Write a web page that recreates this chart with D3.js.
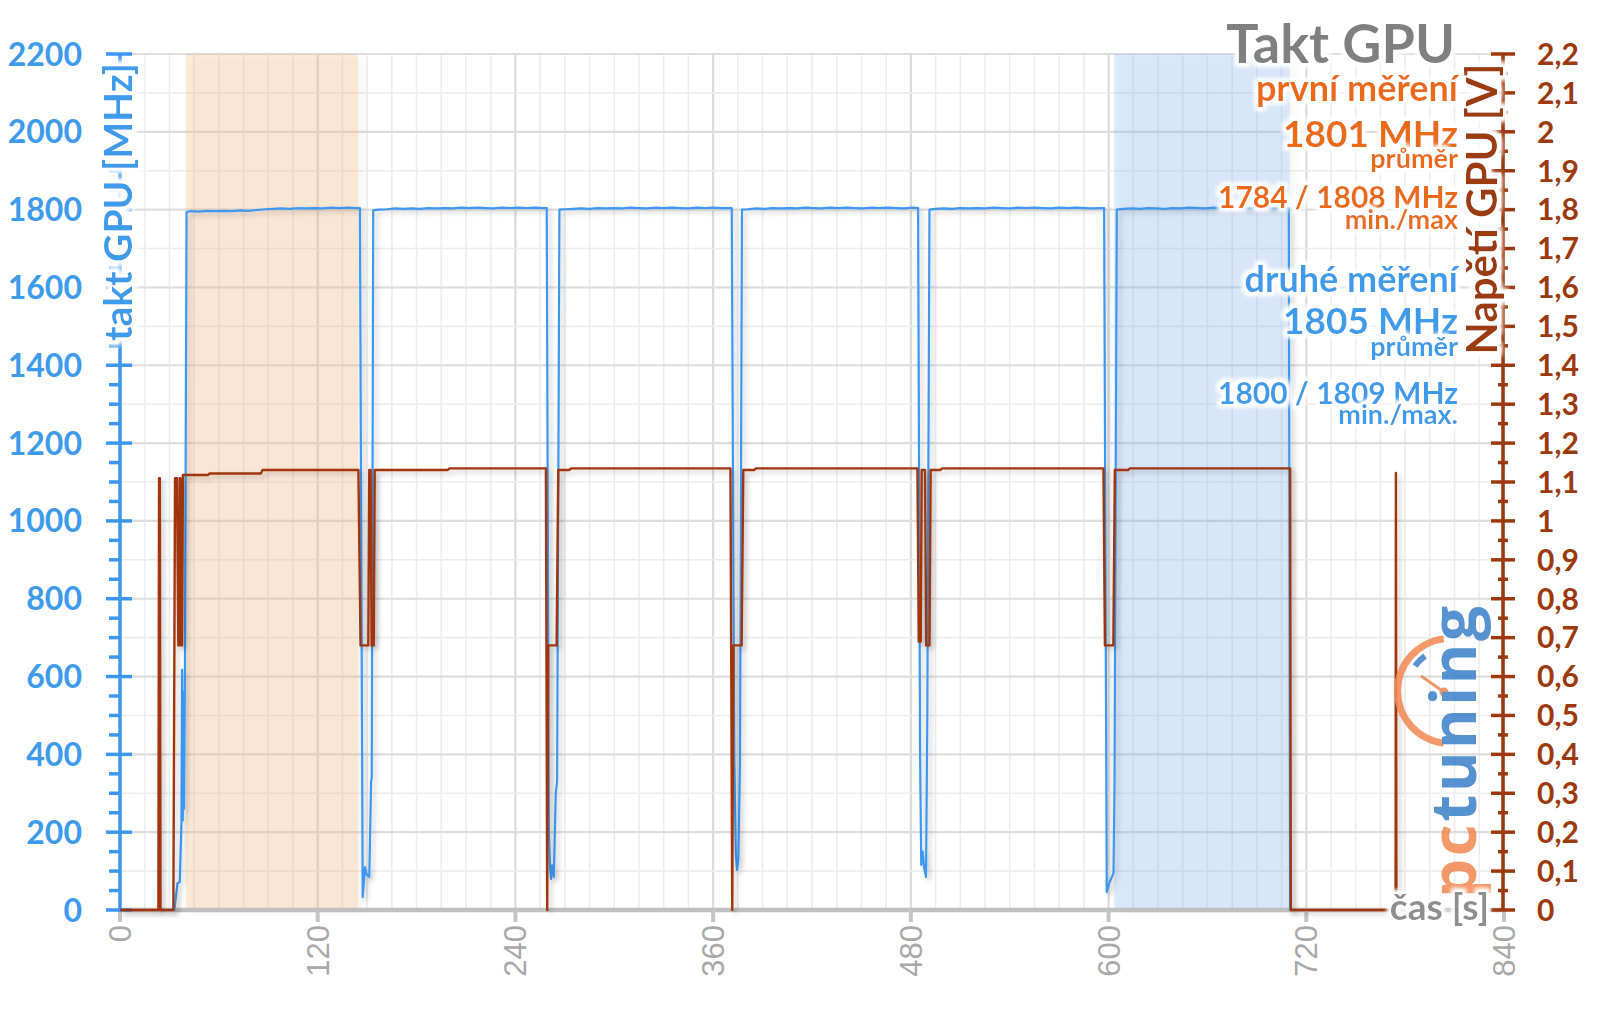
<!DOCTYPE html>
<html><head><meta charset="utf-8">
<script src="https://cdn.jsdelivr.net/npm/d3@7/dist/d3.min.js"></script>
<style>
html,body{margin:0;padding:0;background:#fff;}
svg{display:block;}
</style></head><body>
<svg id="chart" width="1600" height="1009"></svg>
<script>
// ---------- data ----------
const timeTicks = [0,120,240,360,480,600,720,840];
const clockTicks = [0,200,400,600,800,1000,1200,1400,1600,1800,2000,2200];
const voltTicks = [0,0.1,0.2,0.3,0.4,0.5,0.6,0.7,0.8,0.9,1,1.1,1.2,1.3,1.4,1.5,1.6,1.7,1.8,1.9,2,2.1,2.2];
const voltTickLabels = ["0","0,1","0,2","0,3","0,4","0,5","0,6","0,7","0,8","0,9","1","1,1","1,2","1,3","1,4","1,5","1,6","1,7","1,8","1,9","2","2,1","2,2"];
const firstRun = [40, 144.5];
const secondRun = [603.5, 710];

// GPU clock [MHz] : [time s, value]
const clockSeries = [
[0,0],[33.0,0],[34.9,69],[36.3,72],[37.3,224],[37.7,617],[38.1,230],[38.5,560],[38.9,260],[39.4,600],[40.4,1794],
[43,1796],[48,1795],[53,1797],[58,1796],[63,1797],[68,1796],[73,1798],[78,1797],[83,1799],[88,1801],[93,1802],[98,1803],[103,1802],[108,1804],[113,1803],[118,1804],[123,1803],[128,1805],[133,1804],[138,1805],[143,1804],[145.6,1804],
[147.3,33],[148.7,110],[149.8,90],[151.3,85],[152.4,330],[152.8,340],[153.7,1798],
[157,1800],[162,1801],[167,1803],[172,1802],[177,1803],[182,1802],[187,1804],[192,1803],[197,1804],[202,1803],[207,1805],[212,1804],[217,1805],[222,1804],[227,1803],[232,1805],[237,1804],[242,1805],[247,1804],[252,1805],[257,1804],[259.0,1804],
[260.3,200],[261.0,110],[261.6,80],[262.3,115],[263.3,85],[264.5,300],[265.3,330],[266.7,1800],
[270,1801],[275,1802],[280,1803],[285,1802],[290,1804],[295,1803],[300,1804],[305,1803],[310,1805],[315,1804],[320,1803],[325,1805],[330,1804],[335,1805],[340,1804],[345,1803],[350,1805],[355,1804],[360,1805],[365,1804],[371.3,1804],
[372.8,400],[373.8,140],[374.5,103],[375.3,130],[376.3,380],[377.5,1800],
[381,1801],[386,1803],[391,1802],[396,1804],[401,1803],[406,1804],[411,1803],[416,1805],[421,1804],[426,1803],[431,1805],[436,1804],[441,1805],[446,1804],[451,1803],[456,1805],[461,1804],[466,1805],[471,1804],[476,1803],[481,1805],[484.4,1804],
[485.6,400],[486.3,116],[487.2,150],[488.0,110],[489.2,85],[490.0,500],[491.3,1800],
[495,1802],[500,1803],[505,1802],[510,1804],[515,1803],[520,1804],[525,1803],[530,1805],[535,1804],[540,1803],[545,1805],[550,1804],[555,1805],[560,1804],[565,1803],[570,1805],[575,1804],[580,1805],[585,1804],[590,1803],[595,1804],[597.3,1804],
[598.9,46],[600.5,70],[603.0,95],[603.6,326],[605.0,1800],
[609,1802],[614,1803],[619,1802],[624,1804],[629,1803],[634,1802],[639,1804],[644,1803],[649,1805],[654,1804],[659,1803],[664,1805],[669,1804],[674,1803],[679,1805],[684,1804],[689,1803],[694,1805],[699,1804],[704,1803],[709.4,1804],
[710.2,0],[713,0]
];

// GPU voltage [V] : [time s, value]
const voltSeries = [
[0,0],[23.3,0],[23.7,1.11],[24.2,1.11],[24.6,0],[32.4,0],[33.4,1.11],[34.6,1.11],[35.4,0.68],[35.9,0.68],[36.3,1.11],[36.7,1.11],[37.2,0.68],[37.7,0.68],[38.2,1.118],[53.5,1.118],[54.3,1.122],[85.5,1.122],[86.5,1.131],[144.7,1.131],
[146.0,0.68],[150.7,0.68],[151.3,1.131],[152.1,1.131],[152.7,0.68],[154.0,0.68],[154.6,1.131],[199,1.131],[200,1.135],[258.5,1.135],
[259.3,0],[259.9,0.68],[265.0,0.68],[266.0,1.131],[272.5,1.131],[274,1.135],[370.5,1.135],
[371.6,0],[372.3,0.68],[377.3,0.68],[378.3,1.131],[385,1.131],[386,1.135],[484.0,1.135],
[484.8,0.69],[486.0,0.69],[486.6,1.131],[488.6,1.131],[489.3,0.68],[491.3,0.68],[492.0,1.131],[498,1.131],[499,1.135],[596.9,1.135],
[597.8,0.68],[602.9,0.68],[603.8,1.131],[612,1.131],[613,1.135],[710.2,1.135],[710.6,0],[774.2,0],[774.4,1.123],[774.7,0.04]
];

// ---------- layout ----------
const svg = d3.select('#chart');
const L = 120, R = 1504, T = 54, B = 910;
const x = d3.scaleLinear().domain([0,840]).range([L,R]);
const y = d3.scaleLinear().domain([0,2200]).range([B,T]);
const yv = d3.scaleLinear().domain([0,2.2]).range([B,T]);

const BLUE = '#3d9bec', BLUE_LINE = '#3b97f2', BROWN = '#9c3a0e', ORANGE = '#ea6a17', GRAY = '#7f7f7f';
const FONT = 'Lato, "Open Sans", sans-serif';

const defs = svg.append('defs');
function haloFilter(id, r, sd) {
  const f = defs.append('filter').attr('id', id).attr('x','-15%').attr('y','-40%').attr('width','130%').attr('height','180%');
  f.append('feMorphology').attr('in','SourceAlpha').attr('operator','dilate').attr('radius', r).attr('result','d');
  f.append('feGaussianBlur').attr('in','d').attr('stdDeviation', sd).attr('result','b');
  f.append('feFlood').attr('flood-color','#ffffff').attr('result','fl');
  f.append('feComposite').attr('in','fl').attr('in2','b').attr('operator','in').attr('result','w');
  const m = f.append('feMerge');
  m.append('feMergeNode').attr('in','w');
  m.append('feMergeNode').attr('in','w');
  m.append('feMergeNode').attr('in','SourceGraphic');
}
haloFilter('halo', 3, 2);
haloFilter('haloBig', 4, 2.5);
const sh = defs.append('filter').attr('id','shadow').attr('x','-10%').attr('y','-10%').attr('width','130%').attr('height','130%');
sh.append('feDropShadow').attr('dx',3).attr('dy',3).attr('stdDeviation',2.5).attr('flood-color','#000').attr('flood-opacity',0.22);
const sh2 = defs.append('filter').attr('id','shadow2').attr('x','-10%').attr('y','-10%').attr('width','130%').attr('height','130%');
sh2.append('feDropShadow').attr('dx',5).attr('dy',3).attr('stdDeviation',4).attr('flood-color','#000').attr('flood-opacity',0.12);

// ---------- grid ----------
const grid = svg.append('g');
const minorT = d3.range(0, 841, 15);
grid.selectAll('.vg').data(minorT).join('line')
  .attr('x1', d=>x(d)).attr('x2', d=>x(d)).attr('y1', T).attr('y2', B)
  .attr('stroke', d => d % 120 === 0 ? '#d9d9d9' : '#ececec')
  .attr('stroke-width', d => d % 120 === 0 ? 2.2 : 1.6);
const minorC = d3.range(0, 2201, 100);
grid.selectAll('.hg').data(minorC).join('line')
  .attr('x1', L).attr('x2', R).attr('y1', d=>y(d)).attr('y2', d=>y(d))
  .attr('stroke', d => d % 200 === 0 ? '#dcdcdc' : '#ececec')
  .attr('stroke-width', d => d % 200 === 0 ? 2.2 : 1.6);

// ---------- shaded runs ----------
svg.append('rect').attr('x', x(firstRun[0])).attr('y', T).attr('width', x(firstRun[1])-x(firstRun[0])).attr('height', B-T)
  .attr('fill','rgba(248,190,140,0.32)').attr('filter','url(#shadow2)');
svg.append('rect').attr('x', x(secondRun[0])).attr('y', T).attr('width', x(secondRun[1])-x(secondRun[0])).attr('height', B-T)
  .attr('fill','rgba(125,178,245,0.28)').attr('filter','url(#shadow2)');

// ---------- x axis ----------
const xa = svg.append('g');
xa.append('line').attr('x1', L).attr('x2', R).attr('y1', B).attr('y2', B).attr('stroke','#bfbfbf').attr('stroke-width',4.5);
xa.selectAll('.xt').data(timeTicks).join('line')
  .attr('x1', d=>x(d)).attr('x2', d=>x(d)).attr('y1', B).attr('y2', B+12).attr('stroke','#c4c4c4').attr('stroke-width',4);
xa.selectAll('.xl').data(timeTicks).join('text')
  .attr('transform', d=>`translate(${x(d)+11},925) rotate(-90)`)
  .attr('text-anchor','end')
  .attr('font-family','"Liberation Sans", Arial, sans-serif').attr('font-size',31).attr('fill','#a8a8a8')
  .text(d=>d);

// ---------- left axis ----------
const la = svg.append('g');
la.append('line').attr('x1', L).attr('x2', L).attr('y1', T).attr('y2', B).attr('stroke', BLUE_LINE).attr('stroke-width',3.5);
la.selectAll('.lm').data(d3.range(0, 2201, 50)).join('line')
  .attr('x1', d => d % 200 === 0 ? L-14 : L-11).attr('x2', d => d % 200 === 0 ? L+12 : L)
  .attr('y1', d=>y(d)).attr('y2', d=>y(d)).attr('stroke', BLUE_LINE).attr('stroke-width',3.5);
la.selectAll('.ll').data(clockTicks).join('text')
  .attr('x', 82).attr('y', d=>y(d)).attr('dy','0.36em').attr('text-anchor','end')
  .attr('font-family', FONT).attr('font-weight',700).attr('font-size',32).attr('fill', BLUE)
  .text(d=>d);

// ---------- right axis ----------
const ra = svg.append('g');
ra.append('line').attr('x1', 1503).attr('x2', 1503).attr('y1', T).attr('y2', B).attr('stroke', BROWN).attr('stroke-width',3.5);
ra.selectAll('.rm').data(d3.range(0, 45)).join('line')
  .attr('x1', d => d % 2 === 0 ? 1491 : 1498).attr('x2', d => d % 2 === 0 ? 1515 : 1508)
  .attr('y1', d=>yv(d*0.05)).attr('y2', d=>yv(d*0.05)).attr('stroke', BROWN).attr('stroke-width',3.5);
ra.selectAll('.rl').data(voltTicks).join('text')
  .attr('x', 1537).attr('y', d=>yv(d)).attr('dy','0.36em').attr('text-anchor','start')
  .attr('font-family', FONT).attr('font-weight',700).attr('font-size',30).attr('fill', BROWN)
  .text((d,i)=>voltTickLabels[i]);

// ---------- lines ----------
const lineC = d3.line().x(d=>x(d[0])).y(d=>y(d[1]));
const lineV = d3.line().x(d=>x(d[0])).y(d=>yv(d[1]));
svg.append('path').attr('d', lineC(clockSeries)).attr('fill','none').attr('stroke', BLUE_LINE).attr('stroke-width',2.2)
  .attr('stroke-linejoin','round').attr('filter','url(#shadow)');
svg.append('path').attr('d', lineV(voltSeries)).attr('fill','none').attr('stroke', '#a0350b').attr('stroke-width',2.4)
  .attr('stroke-linejoin','round').attr('filter','url(#shadow)');

// ---------- logo ----------
const logo = svg.append('g').attr('opacity',0.88);
const arc = d3.arc();
logo.append('path').attr('transform','translate(1450,691)')
  .attr('d', arc({innerRadius:49, outerRadius:56, startAngle:Math.PI+0.12, endAngle:2*Math.PI-0.12}))
  .attr('fill','#f28a55');
logo.append('path').attr('transform','translate(1450,691)')
  .attr('d', arc({innerRadius:40, outerRadius:46, startAngle:2*Math.PI-0.95, endAngle:2*Math.PI-0.62}))
  .attr('fill','#3f83c9');
logo.append('line').attr('x1',1421).attr('y1',676).attr('x2',1444).attr('y2',692).attr('stroke','#ee8756').attr('stroke-width',3);
logo.append('circle').attr('cx',1444).attr('cy',692).attr('r',4.5).attr('fill','#ee8756');
const lt = logo.append('text').attr('transform','translate(1476,898) rotate(-90)')
  .attr('font-family','"Open Sans", sans-serif').attr('font-weight',700).attr('font-size',62)
  .attr('textLength',292).attr('lengthAdjust','spacing');
lt.append('tspan').attr('fill','#f28a55').text('pc');
lt.append('tspan').attr('fill','#3f83c9').text('tuning');

// ---------- texts with glow ----------
function glow(parent, txt, o) {
  const t = parent.append('text').text(txt)
    .attr('x', o.x || 0).attr('y', o.y || 0)
    .attr('text-anchor', o.anchor || 'end')
    .attr('font-family', FONT).attr('font-weight', o.weight || 700).attr('font-size', o.size)
    .attr('fill', o.color).attr('filter', o.big ? 'url(#haloBig)' : 'url(#halo)');
  if (o.transform) t.attr('transform', o.transform);
}
const tx = svg.append('g');
glow(tx, 'takt GPU [MHz]', {transform:'translate(132,202) rotate(-90)', anchor:'middle', size:39, color:BLUE, big:true});
glow(tx, 'Napětí GPU [V]', {transform:'translate(1497,209) rotate(-90)', anchor:'middle', size:42, color:BROWN, big:true});
glow(tx, 'Takt GPU', {x:1455, y:63, size:54, color:GRAY});
glow(tx, 'první měření', {x:1458, y:101, size:36, color:ORANGE});
glow(tx, '1801 MHz', {x:1458, y:147, size:37, color:ORANGE});
glow(tx, 'průměr', {x:1458, y:168, size:27, color:ORANGE});
glow(tx, '1784 / 1808 MHz', {x:1458, y:208, size:30, color:ORANGE});
glow(tx, 'min./max', {x:1458, y:229, size:27, color:ORANGE});
glow(tx, 'druhé měření', {x:1458, y:292, size:36, color:BLUE});
glow(tx, '1805 MHz', {x:1458, y:334, size:37, color:BLUE});
glow(tx, 'průměr', {x:1458, y:356, size:27, color:BLUE});
glow(tx, '1800 / 1809 MHz', {x:1458, y:404, size:30, color:BLUE});
glow(tx, 'min./max.', {x:1458, y:424, size:27, color:BLUE});
glow(tx, 'čas [s]', {x:1489, y:920, size:37, color:'#8e8e8e'});
</script>
</body></html>
